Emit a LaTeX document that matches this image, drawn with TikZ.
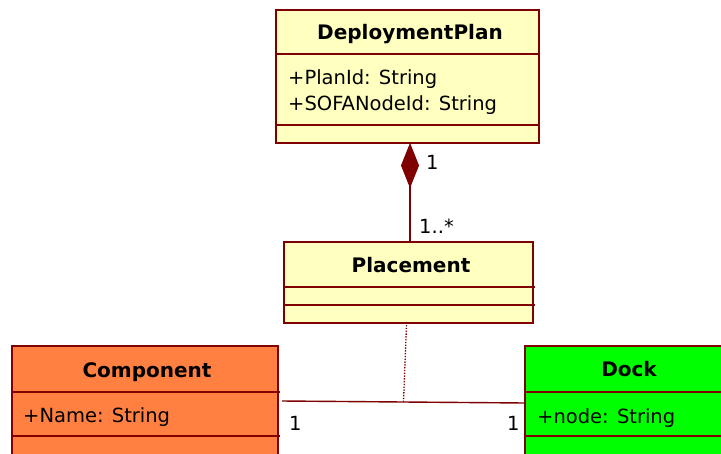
\documentclass[tikz,border=0pt]{standalone}
\usepackage{fontspec}
\setmainfont{DejaVu Sans}
\usetikzlibrary{arrows.meta,calc}
\definecolor{umlborder}{HTML}{7F0000}
\definecolor{umlyellow}{HTML}{FFFFC0}
\definecolor{umlorange}{HTML}{FF8040}
\definecolor{umlgreen}{HTML}{00FF00}
\begin{document}
\begin{tikzpicture}[x=1pt,y=-1pt,
  classbox/.style={draw=umlborder,line width=1.5pt,anchor=north west,inner sep=0pt,outer sep=0pt},
  divider/.style={draw=umlborder,line width=1.3pt},
  ctitle/.style={font=\fontsize{20}{24}\selectfont\bfseries,anchor=base,inner sep=0pt},
  attr/.style={font=\fontsize{19.5}{23}\selectfont,anchor=base west,inner sep=0pt},
  mult/.style={font=\fontsize{19.5}{23}\selectfont,anchor=base west,inner sep=0pt},
  assoc/.style={draw=umlborder,line width=1.4pt}]
\useasboundingbox (0,0) rectangle (721,453);
\clip (0,0) rectangle (721,453);
% DeploymentPlan
\node[classbox,fill=umlyellow,minimum width=263pt,minimum height=133pt] (dp) at (276,10) {};
\draw[divider] (276,54) -- (540,54);
\draw[divider] (276,125) -- (540,125);
\node[ctitle] (dpt) at (410,39) {DeploymentPlan};
\node[attr] (dpa1) at (288,84) {+PlanId: String};
\node[attr] (dpa2) at (288,110) {+SOFANodeId: String};
% Placement
\node[classbox,fill=umlyellow,minimum width=249pt,minimum height=81pt] (pl) at (284,242) {};
\draw[divider] (284,287) -- (535,287);
\draw[divider] (284,305) -- (535,305);
\node[ctitle] (plt) at (411,272) {Placement};
% Component
\node[classbox,fill=umlorange,minimum width=266pt,minimum height=130pt] (co) at (12,346) {};
\draw[divider] (12,392) -- (280,392);
\draw[divider] (12,436) -- (280,436);
\node[ctitle] (cot) at (147,377) {Component};
\node[attr] (coa1) at (23,422) {+Name: String};
% Dock
\node[classbox,fill=umlgreen,minimum width=210pt,minimum height=130pt] (dk) at (525,346) {};
\draw[divider] (525,392) -- (740,392);
\draw[divider] (525,436) -- (740,436);
\node[ctitle] (dkt) at (629,376) {Dock};
\node[attr] (dka1) at (537,423) {+node: String};
% composition
\coordinate (plTop) at ([xshift=1.5pt]pl.north);
\coordinate (dpBot) at (plTop |- dp.south);
\draw[assoc,-{Diamond[length=45pt,width=18pt,fill=umlborder,line width=0.8pt]}] (plTop) -- (dpBot);
\node[mult] (m1) at (426,169) {1};
\node[mult] (m2) at (419,233) {1..*};
% association
\coordinate (coR) at (282,401);
\coordinate (dkL) at (dk.north west |- 0,403);
\draw[assoc] (coR) -- (dkL);
\coordinate (amid) at ($(coR)!0.5!(dkL)$);
\coordinate (plBot) at ([xshift=-2pt,yshift=-2pt]pl.south);
\draw[draw=umlborder,line width=1.3pt,dash pattern=on 1.4pt off 1.4pt] (plBot) -- (amid);
\node[mult] (m3) at (289,430) {1};
\node[mult] (m4) at (507,430) {1};
\end{tikzpicture}
\end{document}
